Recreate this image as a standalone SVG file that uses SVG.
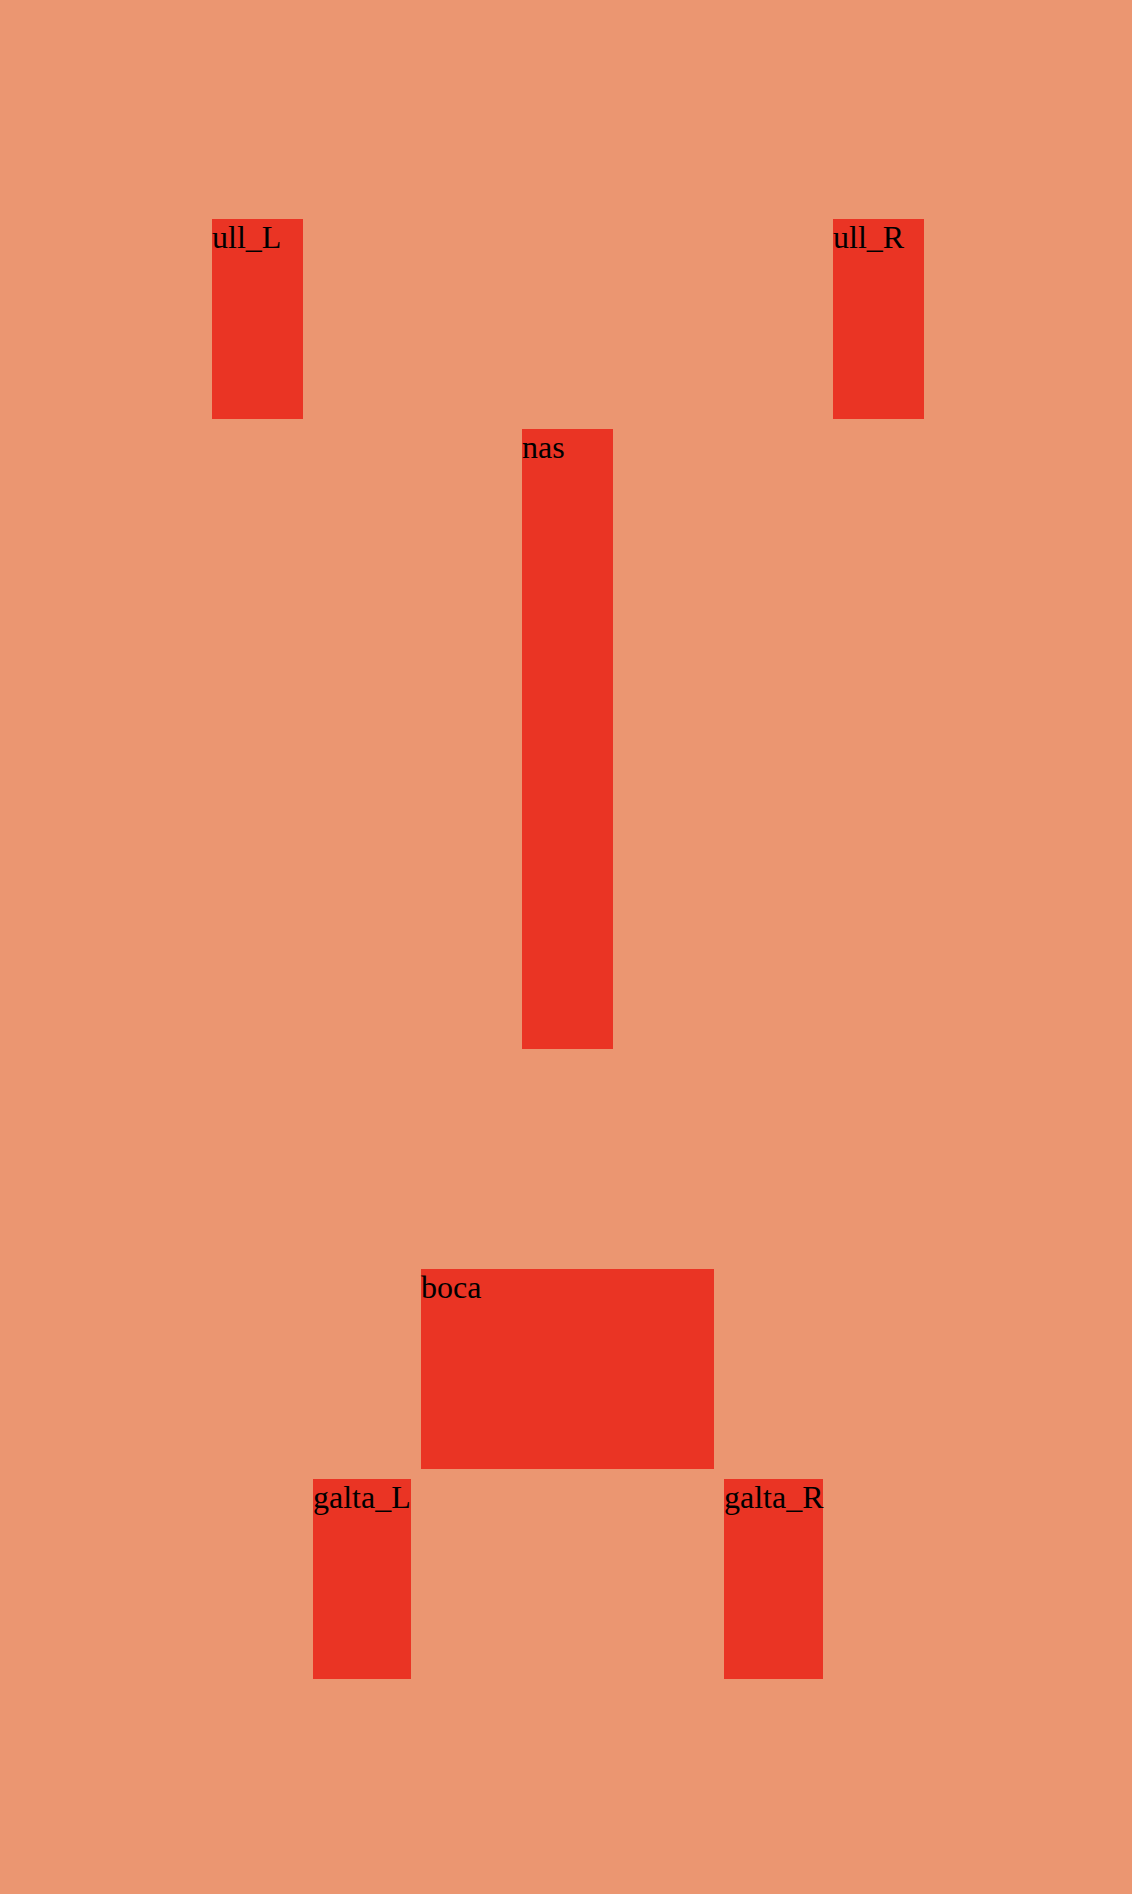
<svg xmlns="http://www.w3.org/2000/svg" width="1132" height="1894" viewBox="0 0 1132 1894">
<style>
.part{fill:#EA3424}
.lbl{font-family:"Liberation Serif","Times New Roman",serif;font-size:32px;fill:#000}
</style>
<rect x="0" y="0" width="1132" height="1894" fill="#EB9671"/>
<g id="ull_L"><rect class="part" x="212" y="219" width="91" height="200"/><text class="lbl" x="212" y="248">ull_L</text></g>
<g id="ull_R"><rect class="part" x="833" y="219" width="91" height="200"/><text class="lbl" x="833" y="248">ull_R</text></g>
<g id="nas"><rect class="part" x="522" y="429" width="91" height="620"/><text class="lbl" x="522" y="458">nas</text></g>
<g id="boca"><rect class="part" x="421" y="1269" width="293" height="200"/><text class="lbl" x="421" y="1298">boca</text></g>
<g id="galta_L"><rect class="part" x="313" y="1479" width="98" height="200"/><text class="lbl" x="313" y="1508">galta_L</text></g>
<g id="galta_R"><rect class="part" x="724" y="1479" width="99" height="200"/><text class="lbl" x="724" y="1508">galta_R</text></g>
<g id="connectors"></g>
</svg>
